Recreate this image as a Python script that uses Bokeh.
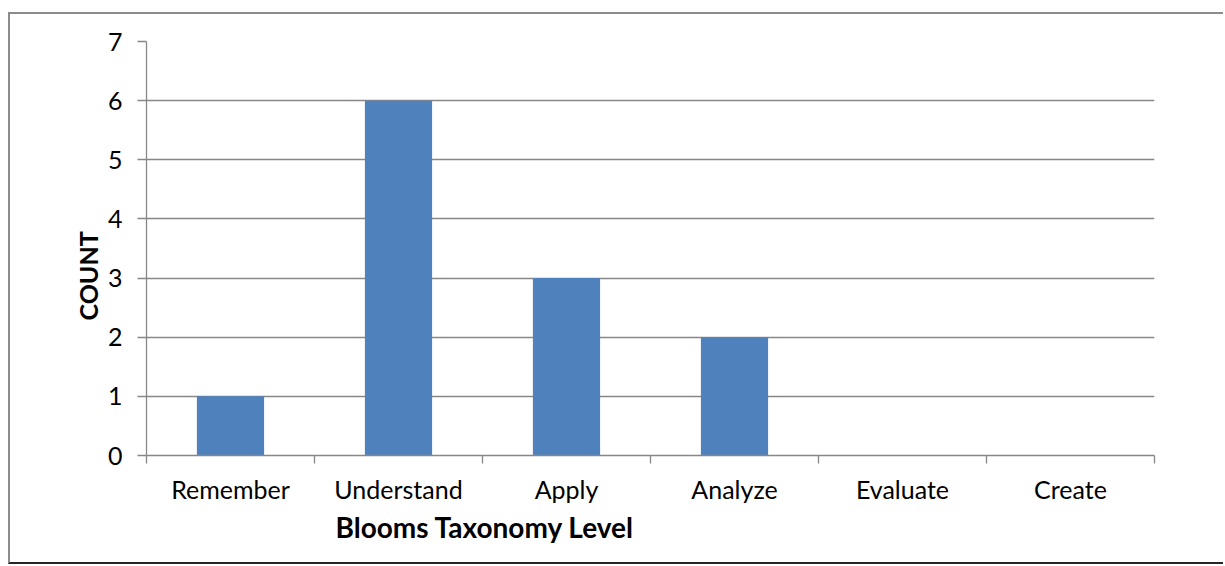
from bokeh.plotting import figure
from bokeh.models import Range1d, FixedTicker, Title
from bokeh.embed import file_html
from bokeh.resources import INLINE

categories = ["Remember", "Understand", "Apply", "Analyze", "Evaluate", "Create"]
counts = [1, 6, 3, 2, 0, 0]
y_ticks = [0, 1, 2, 3, 4, 5, 6, 7]
x_title = "Blooms Taxonomy Level"
y_title = "COUNT"

x_centers = [i + 0.5 for i in range(len(categories))]
x_bounds = list(range(len(categories) + 1))

FONT = "Lato"
GRID = "#878787"
FS = "25px"

p = figure(width=1215, height=552,
           x_range=Range1d(0, len(categories)), y_range=Range1d(0, 7),
           output_backend="svg", toolbar_location=None,
           min_border_left=136, min_border_right=71,
           min_border_top=27, min_border_bottom=111)
p.margin = (12, 0, 0, 8)
p.styles = {"border-top": "2px solid #8c8c8c",
            "border-left": "2px solid #8c8c8c",
            "border-bottom": "2px solid #262626"}
p.outline_line_color = None
p.background_fill_color = "white"
p.border_fill_color = "white"

p.vbar(x=x_centers, top=counts, width=0.4, fill_color="#4F81BD", line_color=None)

p.xgrid.visible = False
p.ygrid.ticker = FixedTicker(ticks=y_ticks)
p.ygrid.grid_line_color = GRID
p.ygrid.grid_line_width = 1.3

ya = p.yaxis[0]
ya.ticker = FixedTicker(ticks=y_ticks)
ya.axis_line_color = GRID
ya.axis_line_width = 1.3
ya.major_tick_line_color = GRID
ya.major_tick_line_width = 1.3
ya.major_tick_out = 9
ya.major_tick_in = 0
ya.minor_tick_line_color = None
ya.major_label_text_font = FONT
ya.major_label_text_font_size = FS
ya.major_label_text_color = "black"
ya.major_label_standoff = 15

xa = p.xaxis[0]
xa.ticker = FixedTicker(ticks=x_centers, minor_ticks=x_bounds)
xa.major_label_overrides = {c: n for c, n in zip(x_centers, categories)}
xa.axis_line_color = GRID
xa.axis_line_width = 1.3
xa.major_tick_line_color = None
xa.major_tick_out = 0
xa.major_tick_in = 0
xa.minor_tick_line_color = GRID
xa.minor_tick_line_width = 1.3
xa.minor_tick_out = 8
xa.minor_tick_in = 0
xa.major_label_text_font = FONT
xa.major_label_text_font_size = FS
xa.major_label_text_color = "black"
xa.major_label_standoff = 10

p.add_layout(Title(text=x_title, align="left", offset=189, standoff=3,
                   text_font=FONT, text_font_size="28px", text_font_style="bold",
                   text_color="black"), "below")
p.add_layout(Title(text=y_title, align="left", offset=135, standoff=4,
                   text_font=FONT, text_font_size=FS, text_font_style="bold",
                   text_color="black"), "left")

open("out.html", "w").write(file_html(p, INLINE))
